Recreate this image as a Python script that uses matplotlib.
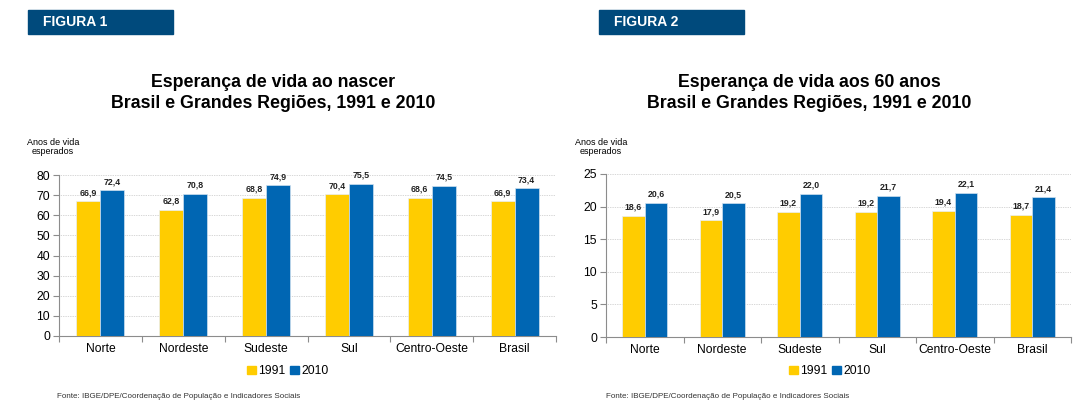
import numpy as np
import matplotlib.pyplot as plt
from matplotlib.patches import Rectangle, Patch

plt.rcParams["font.family"] = ["Liberation Sans", "DejaVu Sans"]

regioes = ["Norte", "Nordeste", "Sudeste", "Sul", "Centro-Oeste", "Brasil"]
anos = ["1991", "2010"]

# Figura 1: esperança de vida ao nascer
nascer_1991 = [66.9, 62.8, 68.8, 70.4, 68.6, 66.9]
nascer_2010 = [72.4, 70.8, 74.9, 75.5, 74.5, 73.4]

# Figura 2: esperança de vida aos 60 anos
sessenta_1991 = [18.6, 17.9, 19.2, 19.2, 19.4, 18.7]
sessenta_2010 = [20.6, 20.5, 22.0, 21.7, 22.1, 21.4]

AMARELO = "#ffcc00"
AZUL = "#0066b3"
BANNER = "#004a7c"
W, H = 1086, 420


def px_axes(fig, x0, y_top, x1, y_bot):
    """Cria eixos a partir de coordenadas em pixels (origem no topo)."""
    return fig.add_axes([x0 / W, 1 - y_bot / H, (x1 - x0) / W, (y_bot - y_top) / H])


def desenha_grafico(fig, ax, v1991, v2010, ymax, ystep, largura=0.29):
    x = np.arange(len(regioes))
    b1 = ax.bar(x - largura / 2, v1991, largura, color=AMARELO, edgecolor="#e8eef5", linewidth=0.5, zorder=3)
    b2 = ax.bar(x + largura / 2, v2010, largura, color=AZUL, edgecolor="#cfe0f0", linewidth=0.5, zorder=3)
    for barras, vals in ((b1, v1991), (b2, v2010)):
        for bar, v in zip(barras, vals):
            ax.annotate(f"{v:.1f}".replace(".", ","), (bar.get_x() + bar.get_width() / 2, v),
                        xytext=(0, 3), textcoords="offset points", ha="center", va="bottom",
                        fontsize=6.3, fontweight="bold", color="#222222")

    ax.set_xlim(-0.5, len(regioes) - 0.5)
    ax.set_ylim(0, ymax)
    ax.set_yticks(np.arange(0, ymax + 1, ystep))
    ax.set_xticks(np.arange(-0.5, len(regioes), 1.0))
    ax.set_xticklabels([])
    ax.set_xticks(x, minor=True)
    ax.set_xticklabels(regioes, minor=True, fontsize=8.7)
    ax.tick_params(axis="x", which="major", length=4, color="#8c8c8c", direction="out")
    ax.tick_params(axis="x", which="minor", length=0, pad=5)
    ax.tick_params(axis="y", length=4, color="#8c8c8c", labelsize=8.7, pad=2.5)

    ax.grid(axis="y", linestyle=(0, (1, 1.5)), color="#b0b0b0", linewidth=0.5, zorder=0)
    for s in ("top", "right"):
        ax.spines[s].set_visible(False)
    for s in ("left", "bottom"):
        ax.spines[s].set_color("#8c8c8c")
        ax.spines[s].set_linewidth(0.8)


fig = plt.figure(figsize=(W / 100, H / 100), dpi=100)

paineis = [
    dict(num=1, bx=28, tx=43, eixo=(59, 175, 556, 336), v1=nascer_1991, v2=nascer_2010, ymax=80, step=10,
         titulo="Esperança de vida ao nascer\nBrasil e Grandes Regiões, 1991 e 2010", tcx=273,
         ylab_x=53, leg_x=288, fonte_x=57),
    dict(num=2, bx=599, tx=614, eixo=(606, 174, 1071, 337), v1=sessenta_1991, v2=sessenta_2010, ymax=25, step=5,
         titulo="Esperança de vida aos 60 anos\nBrasil e Grandes Regiões, 1991 e 2010", tcx=809,
         ylab_x=601, leg_x=830, fonte_x=606),
]

for p in paineis:
    # faixa "FIGURA n"
    fig.patches.append(Rectangle((p["bx"] / W, 1 - 34 / H), 145 / W, 24 / H,
                                 transform=fig.transFigure, color=BANNER, zorder=1))
    fig.text(p["tx"] / W, 1 - 22 / H, f"FIGURA {p['num']}", color="white", fontsize=10,
             fontweight="bold", va="center", ha="left")
    fig.text(p["tcx"] / W, 1 - 93 / H, p["titulo"], ha="center", va="center", fontsize=12.8,
             fontweight="bold", linespacing=1.3)
    fig.text(p["ylab_x"] / W, 1 - 147 / H, "Anos de vida\nesperados", ha="center", va="center",
             fontsize=6.5, linespacing=1.0)

    ax = px_axes(fig, *p["eixo"])
    desenha_grafico(fig, ax, p["v1"], p["v2"], p["ymax"], p["step"])

    handles = [Patch(color=AMARELO), Patch(color=AZUL)]
    fig.legend(handles, anos, loc="center", bbox_to_anchor=(p["leg_x"] / W, 1 - 371 / H),
               ncol=2, frameon=False, fontsize=8.7, handlelength=0.7, handleheight=0.7,
               handletextpad=0.2, columnspacing=0.4)
    fig.text(p["fonte_x"] / W, 1 - 397 / H, "Fonte: IBGE/DPE/Coordenação de População e Indicadores Sociais",
             ha="left", va="center", fontsize=5.8, color="#333333")

fig.savefig("out.png", dpi=100)
